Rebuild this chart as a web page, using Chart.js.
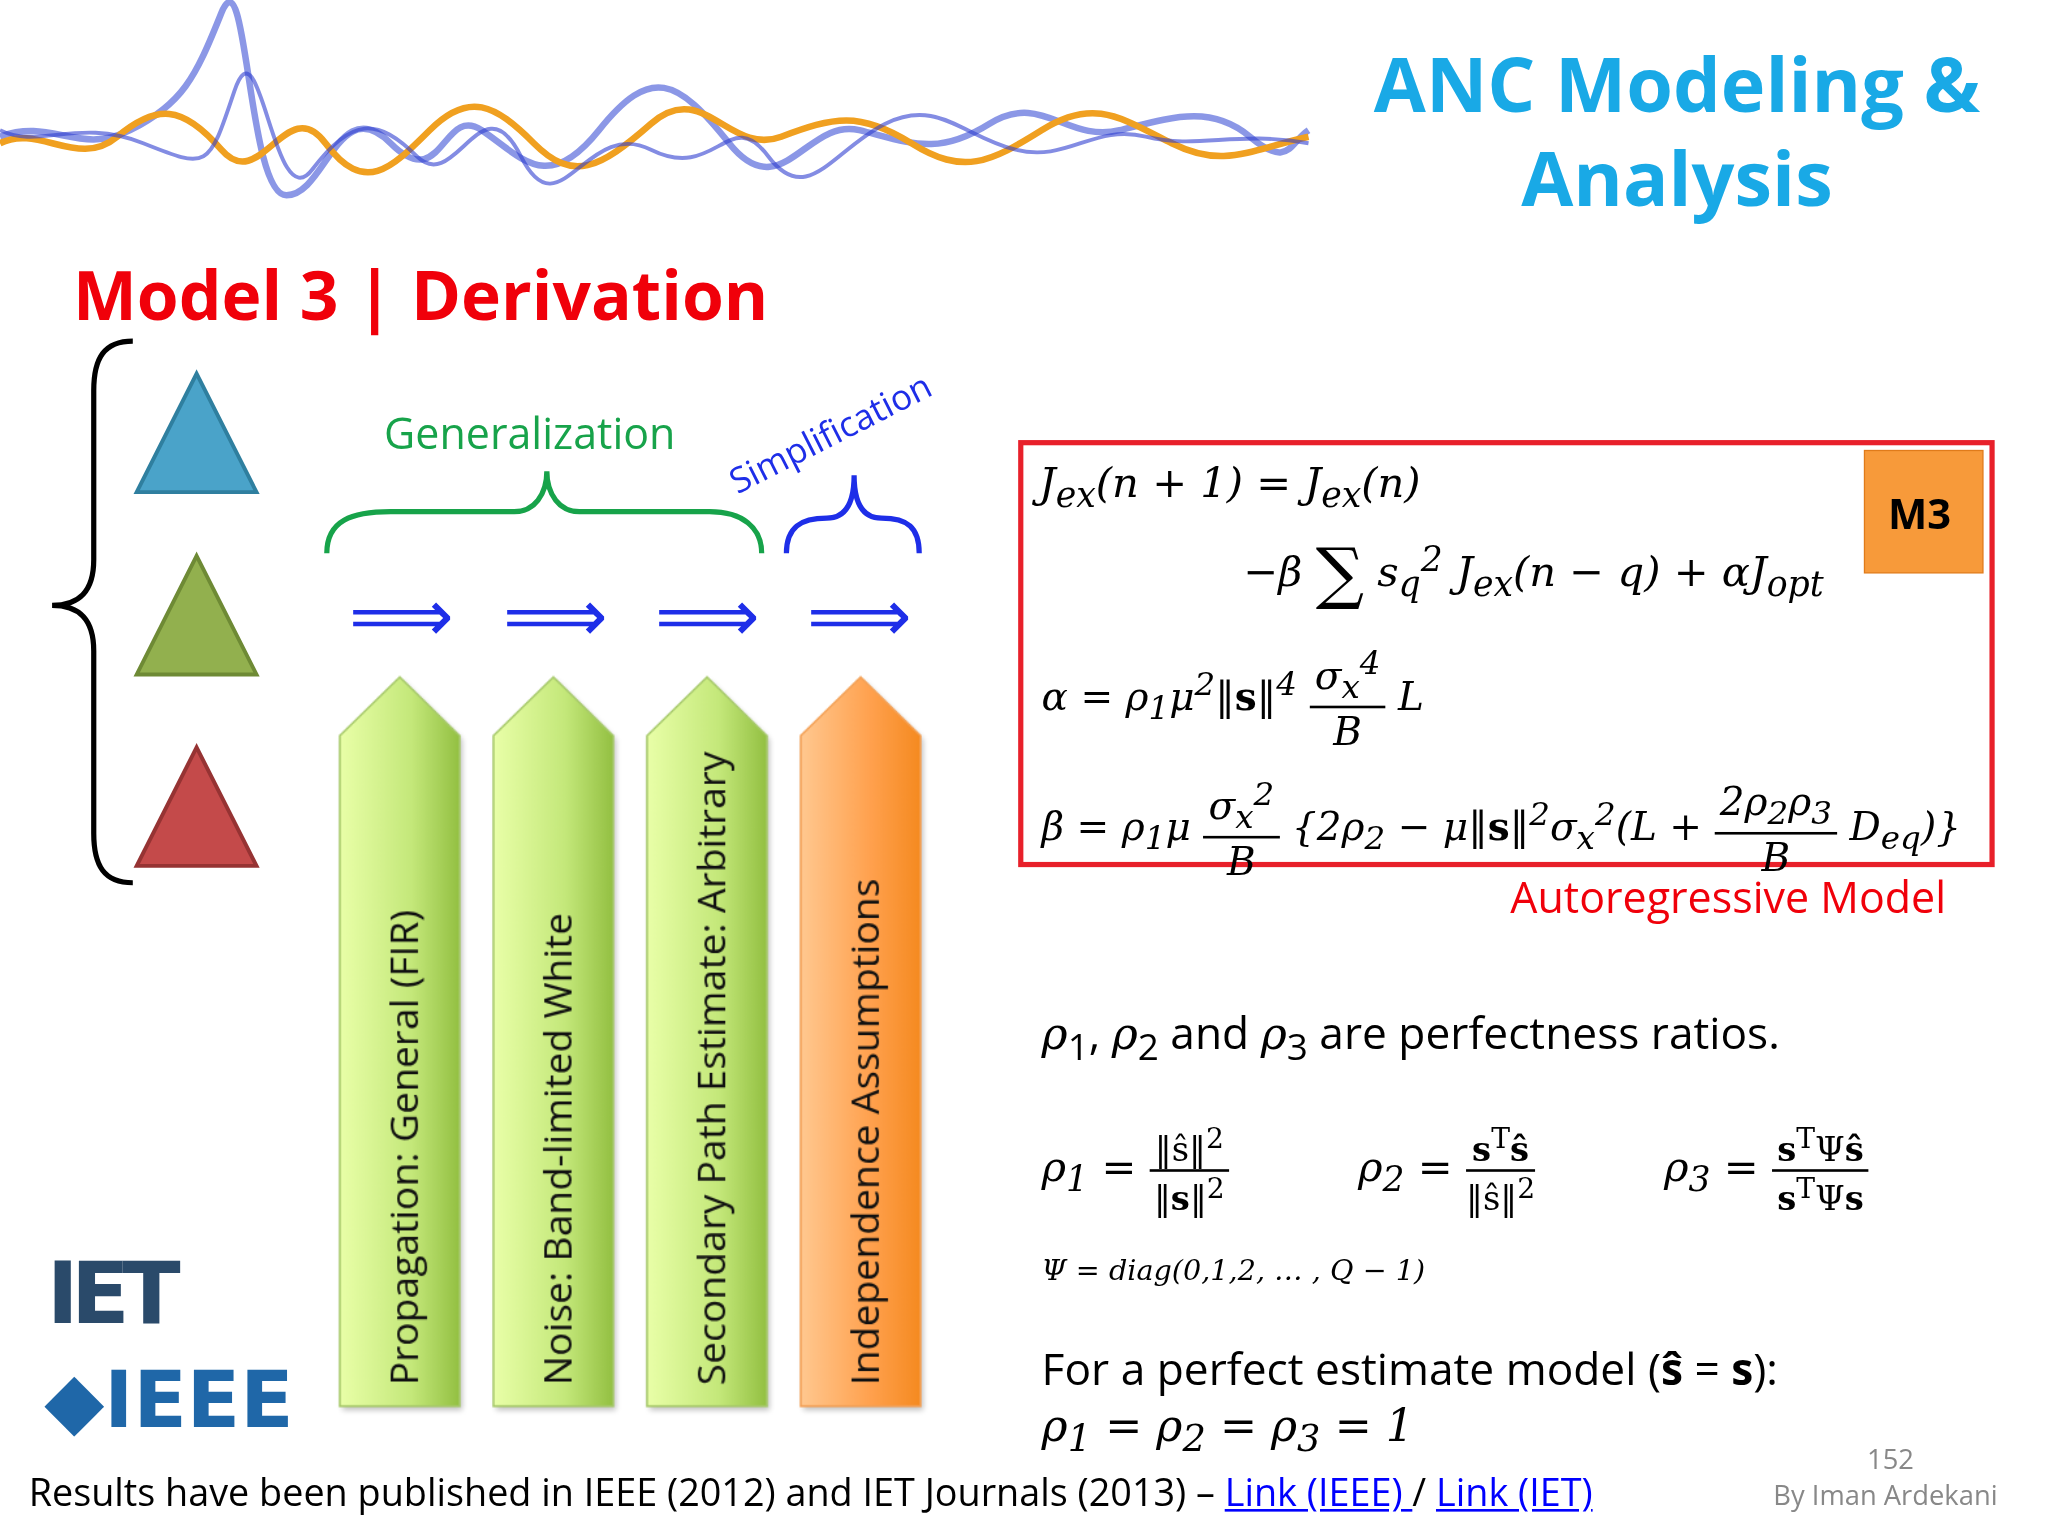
<!DOCTYPE html>
<html><head><meta charset="utf-8">
<script src="https://cdn.jsdelivr.net/npm/chart.js@4.4.0/dist/chart.umd.min.js"></script>
<style>
html,body{margin:0;padding:0;background:#fff;width:2048px;height:1536px;overflow:hidden}
#slide{position:absolute;left:0;top:0;width:1552px;height:1164px;transform:scale(1.302);transform-origin:0 0;font-family:"Open Sans",sans-serif}
.t{position:absolute;white-space:nowrap}
.m{font-family:"DejaVu Serif",serif;font-style:italic}
.fr{display:inline-block;vertical-align:middle;text-align:center}
.fr span{display:block}
.fr .n{border-bottom:2px solid #000;padding:0 4px}
#wrap{position:absolute;left:248px;top:505px;width:472px;height:585px}
</style></head><body>
<div id="slide">
<svg width="1552" height="1164" style="position:absolute;left:0;top:0">
  <g fill="none" stroke-width="5">
    <path d="M0,105 C40,90 60,120 100,100 S150,60 170,10 S190,150 220,150 S260,70 300,110 S340,80 370,100 S420,150 460,100 S520,60 560,110 S620,90 660,100 S720,120 760,95 S820,110 860,100 S930,80 960,105 S990,110 1005,100" stroke="#5a6bdc" opacity="0.7"/>
    <path d="M0,110 C30,95 60,130 90,105 S140,80 170,115 S220,70 250,110 S300,130 330,100 S380,80 410,110 S460,130 500,95 S560,120 600,105 S660,85 700,110 S760,125 800,100 S860,90 900,110 S960,115 1005,105" stroke="#f0a020"/>
    <path d="M0,100 C30,115 60,90 110,110 S160,130 180,70 S210,170 240,130 S290,90 320,120 S370,60 400,120 S450,90 500,115 S560,80 590,120 S640,115 680,95 S740,105 780,115 S840,95 880,105 S950,100 1005,110" stroke="#3040d0" opacity="0.6" stroke-width="3"/>
  </g>
  <path d="M102,262 C80,262 72,275 72,300 L72,430 C72,455 60,465 40,465 C60,465 72,475 72,500 L72,640 C72,665 80,678 102,678" fill="none" stroke="#000" stroke-width="4"/>
  <polygon points="151,287 197,378 105,378" fill="#4aa3c9" stroke="#2f7f9f" stroke-width="3"/>
  <polygon points="151,427 197,518 105,518" fill="#92b04e" stroke="#6e8a35" stroke-width="3"/>
  <polygon points="151,574 197,665 105,665" fill="#c44a4a" stroke="#963333" stroke-width="3"/>
  <path d="M251,425 C251,400 270,393 300,393 L395,393 C410,393 420,380 420,362 C420,380 430,393 445,393 L545,393 C570,393 585,405 585,425" fill="none" stroke="#17a34a" stroke-width="4"/>
  <path d="M604,425 C604,405 615,398 635,398 C650,398 656,385 656,365 C656,385 662,398 677,398 C697,398 706,405 706,425" fill="none" stroke="#1e2ee8" stroke-width="4"/>
  <rect x="784" y="340" width="746" height="324" fill="none" stroke="#e8202a" stroke-width="4"/>
  <rect x="1432" y="346" width="91" height="94" fill="#f79a3a" stroke="#e07b1a"/>
</svg>
<div class="t" style="left:1048px;top:28px;width:480px;text-align:center;color:#19a9e6;font:bold 58px 'Open Sans',sans-serif;line-height:72px;white-space:normal">ANC Modeling &amp; Analysis</div>
<div class="t" style="left:56px;top:190px;color:#f0000a;font:bold 52px 'Open Sans',sans-serif">Model 3 | Derivation</div>
<div class="t" style="left:295px;top:310px;color:#17a34a;font-size:33px">Generalization</div>
<div class="t" style="left:570px;top:350px;color:#1e2ee8;font-size:27px;transform:rotate(-27deg);transform-origin:0 100%">Simplification</div>
<div class="t" style="left:268px;top:432px;color:#1e2ee8;font-size:56px">&#10233;</div>
<div class="t" style="left:386px;top:432px;color:#1e2ee8;font-size:56px">&#10233;</div>
<div class="t" style="left:503px;top:432px;color:#1e2ee8;font-size:56px">&#10233;</div>
<div class="t" style="left:620px;top:432px;color:#1e2ee8;font-size:56px">&#10233;</div>
<div class="t" style="left:1450px;top:372px;font:bold 32px 'Open Sans',sans-serif">M3</div>
<div class="t m" style="left:798px;top:352px;font-size:32px">J<sub>ex</sub>(n + 1) = J<sub>ex</sub>(n)</div>
<div class="t m" style="left:955px;top:410px;font-size:32px">&minus;&beta; <span style="font-style:normal;font-size:52px;vertical-align:-8px">&sum;</span> s<sub>q</sub><sup>2</sup> J<sub>ex</sub>(n &minus; q) + &alpha;J<sub>opt</sub></div>
<div class="t m" style="left:800px;top:495px;font-size:30px">&alpha; = &rho;<sub>1</sub>&mu;<sup>2</sup>&Vert;<b style="font-style:normal">s</b>&Vert;<sup>4</sup> <span class="fr"><span class="n">&sigma;<sub>x</sub><sup>4</sup></span><span>B</span></span> L</div>
<div class="t m" style="left:800px;top:595px;font-size:30px">&beta; = &rho;<sub>1</sub>&mu; <span class="fr"><span class="n">&sigma;<sub>x</sub><sup>2</sup></span><span>B</span></span> {2&rho;<sub>2</sub> &minus; &mu;&Vert;<b style="font-style:normal">s</b>&Vert;<sup>2</sup>&sigma;<sub>x</sub><sup>2</sup>(L + <span class="fr"><span class="n">2&rho;<sub>2</sub>&rho;<sub>3</sub></span><span>B</span></span> D<sub>eq</sub>)}</div>
<div class="t" style="left:1160px;top:666px;color:#f0000a;font-size:33px">Autoregressive Model</div>
<div class="t" style="left:800px;top:770px;font-size:34px"><span class="m">&rho;</span><sub>1</sub>, <span class="m">&rho;</span><sub>2</sub> and <span class="m">&rho;</span><sub>3</sub> are perfectness ratios.</div>
<div class="t m" style="left:800px;top:862px;font-size:32px">&rho;<sub>1</sub> = <span class="fr" style="font-style:normal;font-size:26px"><span class="n">&Vert;&#349;&Vert;<sup>2</sup></span><span>&Vert;<b>s</b>&Vert;<sup>2</sup></span></span></div>
<div class="t m" style="left:1043px;top:862px;font-size:32px">&rho;<sub>2</sub> = <span class="fr" style="font-style:normal;font-size:26px"><span class="n"><b>s</b><sup>T</sup><b>&#349;</b></span><span>&Vert;&#349;&Vert;<sup>2</sup></span></span></div>
<div class="t m" style="left:1278px;top:862px;font-size:32px">&rho;<sub>3</sub> = <span class="fr" style="font-style:normal;font-size:26px"><span class="n"><b>s</b><sup>T</sup>&Psi;<b>&#349;</b></span><span><b>s</b><sup>T</sup>&Psi;<b>s</b></span></span></div>
<div class="t m" style="left:800px;top:963px;font-size:22px">&Psi; = diag(0,1,2, &hellip; , Q &minus; 1)</div>
<div class="t" style="left:800px;top:1028px;font-size:34px">For a perfect estimate model (<b>&#349;</b> = <b>s</b>):</div>
<div class="t m" style="left:800px;top:1075px;font-size:34px">&rho;<sub>1</sub> = &rho;<sub>2</sub> = &rho;<sub>3</sub> = 1</div>
<div class="t" style="left:22px;top:1126px;font-size:29px">Results have been published in IEEE (2012) and IET Journals (2013) &ndash; <u style="color:#00f">Link (IEEE) </u>/ <u style="color:#00f">Link (IET) </u></div>
<div class="t" style="left:1434px;top:1106px;color:#888;font-size:21px">152</div>
<div class="t" style="left:1362px;top:1134px;color:#888;font-size:21px">By Iman Ardekani</div>
<div class="t" style="left:36px;top:955px;color:#2a4a6a;font:900 66px 'DejaVu Sans',sans-serif;letter-spacing:-6px">IET</div>
<div class="t" style="left:34px;top:1040px;color:#1f67a8;font:900 60px 'DejaVu Sans',sans-serif">&#9670;IEEE</div>
<div id="wrap"><canvas id="c"></canvas></div>
</div>
<script>
var categories = ['Propagation: General (FIR)', 'Noise: Band-limited White', 'Secondary Path Estimate: Arbitrary', 'Independence Assumptions'];
var heights = [1, 1, 1, 1];
var kinds = ['green', 'green', 'green', 'orange'];

var arrowPlugin = {
  id: 'arrows',
  afterDatasetsDraw: function (chart) {
    var ctx = chart.ctx;
    chart.getDatasetMeta(0).data.forEach(function (bar, i) {
      var w = bar.width, l = bar.x - w / 2, r = bar.x + w / 2, top = bar.y, base = bar.base, sh = top + 45;
      var g = ctx.createLinearGradient(l, 0, r, 0);
      if (kinds[i] === 'green') { g.addColorStop(0, '#e9ffa8'); g.addColorStop(0.6, '#c4e87a'); g.addColorStop(1, '#93c042'); }
      else { g.addColorStop(0, '#ffc890'); g.addColorStop(0.6, '#ffa04c'); g.addColorStop(1, '#f58a20'); }
      ctx.save();
      ctx.shadowColor = 'rgba(0,0,0,0.25)'; ctx.shadowOffsetX = 2; ctx.shadowOffsetY = 3; ctx.shadowBlur = 4;
      ctx.beginPath();
      ctx.moveTo(bar.x, top); ctx.lineTo(r, sh); ctx.lineTo(r, base); ctx.lineTo(l, base); ctx.lineTo(l, sh); ctx.closePath();
      ctx.fillStyle = g; ctx.fill();
      ctx.shadowColor = 'transparent';
      ctx.strokeStyle = kinds[i] === 'green' ? '#a6c96a' : '#f3a055'; ctx.lineWidth = 1.5; ctx.stroke();
      ctx.translate(bar.x + 14, base - 16);
      ctx.rotate(-Math.PI / 2);
      ctx.fillStyle = '#111'; ctx.font = '30px "Open Sans"'; ctx.textAlign = 'left';
      ctx.fillText(categories[i], 0, 0);
      ctx.restore();
    });
  }
};

new Chart(document.getElementById('c'), {
  type: 'bar',
  data: { labels: categories, datasets: [{ data: heights, backgroundColor: 'rgba(0,0,0,0)', barPercentage: 0.78, categoryPercentage: 1 }] },
  options: {
    responsive: true, maintainAspectRatio: false, animation: false,
    layout: { padding: { top: 15, bottom: 10 } },
    plugins: { legend: { display: false }, tooltip: { enabled: false } },
    scales: { x: { display: false }, y: { display: false, min: 0, max: 1 } }
  },
  plugins: [arrowPlugin]
});
</script>
</body></html>
